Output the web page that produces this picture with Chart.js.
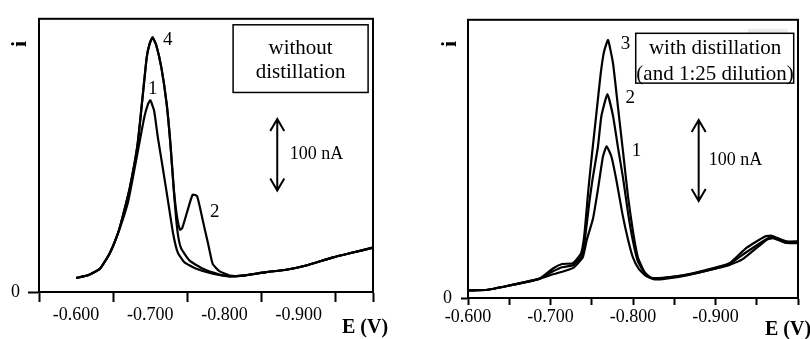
<!DOCTYPE html>
<html>
<head>
<meta charset="utf-8">
<script src="https://cdn.jsdelivr.net/npm/chart.js@4.4.1/dist/chart.umd.min.js"></script>
<style>
  html, body { margin: 0; padding: 0; background: #fff; }
  .wrap { position: relative; width: 810px; height: 339px; }
  .panel { position: absolute; top: 0; width: 405px; height: 339px; }
  #leftPanel { left: 0; }
  #rightPanel { left: 405px; }
</style>
</head>
<body>
<div class="wrap">
  <div class="panel" id="leftPanel"><canvas id="leftChart"></canvas></div>
  <div class="panel" id="rightPanel"><canvas id="rightChart"></canvas></div>
</div>
<script>
// ---- left panel: without distillation (E in V, i in nA) ----
const leftE1 = [-0.600, -0.616, -0.632, -0.645, -0.656, -0.670, -0.681, -0.692, -0.697, -0.700, -0.705, -0.710, -0.717, -0.724, -0.731, -0.737, -0.746, -0.762, -0.784, -0.807, -0.825, -0.856, -0.883, -0.910, -0.946, -0.973, -1.000];
const leftI1 = [19.6, 23.3, 32.5, 53.4, 80.8, 126, 185, 245, 263, 268, 254, 217, 172, 126, 80, 55, 41.5, 32.5, 25.6, 21.9, 22.9, 27.8, 31.1, 37, 48.4, 55.2, 62];

const leftE2 = [-0.600, -0.616, -0.632, -0.645, -0.656, -0.661, -0.672, -0.683, -0.695, -0.699, -0.703, -0.708, -0.715, -0.722, -0.727, -0.732, -0.736, -0.740, -0.743, -0.751, -0.757, -0.763, -0.771, -0.778, -0.784, -0.793, -0.807, -0.825, -0.856, -0.883, -0.910, -0.946, -0.973, -1.000];
const leftI2 = [19.6, 23.3, 32.5, 53.4, 80.8, 98.6, 144, 208, 327, 347, 356, 345, 313, 263, 208, 140, 105, 87, 89.5, 117, 136, 134, 98.6, 66.7, 39.3, 29.2, 22.9, 22.9, 27.8, 31.1, 37, 48.4, 55.2, 62];

const leftE4 = [-0.600, -0.616, -0.632, -0.645, -0.656, -0.661, -0.672, -0.683, -0.695, -0.699, -0.703, -0.708, -0.715, -0.722, -0.727, -0.731, -0.735, -0.738, -0.742, -0.753, -0.771, -0.794, -0.807, -0.825, -0.856, -0.883, -0.910, -0.946, -0.973, -1.000];
const leftI4 = [19.6, 23.3, 32.5, 53.4, 80.8, 98.6, 144, 208, 327, 347, 356, 345, 313, 263, 208, 150, 100, 75, 60, 43.8, 32.5, 24.2, 21.9, 22.9, 27.8, 31.1, 37, 48.4, 55.2, 62];

// ---- right panel: with distillation (and 1:25 dilution) ----
const rightE1 = [-0.600, -0.624, -0.650, -0.686, -0.704, -0.718, -0.728, -0.739, -0.744, -0.7515, -0.7576, -0.7636, -0.768, -0.7738, -0.780, -0.787, -0.794, -0.800, -0.807, -0.816, -0.826, -0.840, -0.865, -0.901, -0.917, -0.933, -0.962, -0.970, -0.986, -1.000];
const rightI1 = [9.4, 10.2, 15.4, 23.6, 29.6, 33.7, 37.7, 50, 72, 98, 135, 175, 187.6, 175, 145, 105, 72, 50, 36, 27, 23, 24, 28, 36.5, 41, 48, 72, 74, 68, 68];

const rightE2 = [-0.600, -0.624, -0.650, -0.686, -0.703, -0.714, -0.727, -0.738, -0.742, -0.747, -0.751, -0.7575, -0.7617, -0.769, -0.7758, -0.7818, -0.788, -0.794, -0.800, -0.806, -0.815, -0.824, -0.836, -0.865, -0.901, -0.917, -0.935, -0.962, -0.968, -0.986, -1.000];
const rightI2 = [9.4, 10.2, 15.4, 23.6, 33, 38, 40.5, 52, 75, 118, 147, 187, 225, 252, 225, 186, 148, 105, 70, 45, 30, 24, 24.5, 28.5, 37, 42, 55, 73, 75, 69, 69];

const rightE3 = [-0.600, -0.624, -0.650, -0.686, -0.703, -0.714, -0.727, -0.737, -0.741, -0.746, -0.750, -0.7556, -0.7608, -0.765, -0.7697, -0.7758, -0.7818, -0.788, -0.794, -0.800, -0.806, -0.814, -0.822, -0.836, -0.865, -0.901, -0.917, -0.9375, -0.960, -0.968, -0.986, -1.000];
const rightI3 = [9.4, 10.2, 15.4, 23.6, 36.5, 42, 43, 55, 78, 135, 175, 228, 277, 305, 319, 290, 236, 180, 125, 82, 50, 32, 25, 25, 29, 38, 43, 62, 76, 77, 70, 70];

// ---- axis ticks ----
const leftTickMarks = [-0.55, -0.65, -0.75, -0.85, -0.95, -1.0];
const rightTickMarks = [-0.6, -0.65, -0.7, -0.75, -0.8, -0.85, -0.9, -0.95, -1.0];
const tickValues = [-0.6, -0.7, -0.8, -0.9];
const tickLabels = ["-0.600", "-0.700", "-0.800", "-0.900"];

const SERIF = "'Liberation Serif', 'DejaVu Serif', serif";

function same(a, b) {
  return Math.abs(a - b) < 1e-6;
}

function toPoints(eValues, iValues) {
  return eValues.map((e, k) => ({ x: e, y: iValues[k] }));
}

function labelFor(value) {
  const k = tickValues.findIndex((v) => same(v, value));
  return k >= 0 ? tickLabels[k] : "";
}

function drawArrow(ctx, x, yTop, yBottom) {
  const head = 7;
  ctx.beginPath();
  ctx.moveTo(x, yTop);
  ctx.lineTo(x, yBottom);
  ctx.moveTo(x - head, yTop + 12);
  ctx.lineTo(x, yTop);
  ctx.lineTo(x + head, yTop + 12);
  ctx.moveTo(x - head, yBottom - 12);
  ctx.lineTo(x, yBottom);
  ctx.lineTo(x + head, yBottom - 12);
  ctx.stroke();
}

const extrasPlugin = {
  id: "extras",
  afterDraw(chart, args, opts) {
    const { ctx, chartArea, scales } = chart;
    const px = (e) => scales.x.getPixelForValue(e);
    const py = (i) => scales.y.getPixelForValue(i);

    ctx.save();
    ctx.strokeStyle = "#000";
    ctx.fillStyle = "#000";

    // frame
    ctx.lineWidth = 2;
    ctx.strokeRect(chartArea.left, chartArea.top, chartArea.right - chartArea.left, chartArea.bottom - chartArea.top);

    // grey smudge (right panel only)
    if (opts.smudge) {
      const s = opts.smudge;
      ctx.fillStyle = "#ececec";
      ctx.fillRect(px(s.e1), py(s.i1), px(s.e2) - px(s.e1), py(s.i2) - py(s.i1));
      ctx.fillStyle = "#000";
    }

    // caption box
    const b = opts.box;
    ctx.lineWidth = 1.5;
    ctx.fillStyle = "#fff";
    ctx.fillRect(px(b.e1), py(b.i1), px(b.e2) - px(b.e1), py(b.i2) - py(b.i1));
    ctx.strokeRect(px(b.e1), py(b.i1), px(b.e2) - px(b.e1), py(b.i2) - py(b.i1));
    ctx.fillStyle = "#000";

    ctx.textAlign = "center";
    ctx.textBaseline = "middle";
    ctx.font = `21px ${SERIF}`;
    b.lines.forEach((line) => {
      ctx.fillText(line.text, px(b.center), py(line.i));
    });

    // curve numbers
    ctx.font = `19px ${SERIF}`;
    opts.notes.forEach((n) => {
      ctx.fillText(n.text, px(n.e), py(n.i));
    });

    // 100 nA scale bar
    const a = opts.bar;
    ctx.lineWidth = 2;
    drawArrow(ctx, px(a.e), py(a.i + 100), py(a.i));
    ctx.font = `18px ${SERIF}`;
    ctx.fillText("100 nA", px(a.textE), py(a.textI));

    // axis titles
    ctx.font = `bold 22px ${SERIF}`;
    ctx.save();
    ctx.translate(opts.iTitle.x, opts.iTitle.y);
    ctx.rotate(-Math.PI / 2);
    ctx.fillText("i", 0, 0);
    ctx.restore();

    ctx.font = `bold 20px ${SERIF}`;
    ctx.fillText("E (V)", opts.eTitle.x, opts.eTitle.y);

    ctx.restore();
  }
};

function buildChart(canvasId, cfg) {
  const ctx = document.getElementById(canvasId).getContext("2d");
  const allTicks = cfg.tickMarks.concat(tickValues.filter((v) => !cfg.tickMarks.some((m) => same(m, v))));

  return new Chart(ctx, {
    type: "scatter",
    data: {
      datasets: cfg.curves.map((c) => ({
        data: toPoints(c.e, c.i),
        showLine: true,
        borderColor: "#000",
        borderWidth: 2.2,
        pointRadius: 0,
        tension: 0.15,
        fill: false
      }))
    },
    options: {
      responsive: true,
      maintainAspectRatio: false,
      animation: false,
      layout: { padding: { top: cfg.padTop, right: cfg.padRight, left: 0, bottom: 0 } },
      plugins: {
        legend: { display: false },
        tooltip: { enabled: false },
        extras: cfg.extras
      },
      scales: {
        x: {
          type: "linear",
          reverse: true,
          min: -1.0,
          max: cfg.xMax,
          afterBuildTicks(scale) {
            scale.ticks = allTicks.slice().sort((p, q) => q - p).map((v) => ({ value: v }));
          },
          afterFit(scale) {
            scale.height = cfg.xAxisHeight;
          },
          ticks: {
            autoSkip: false,
            maxRotation: 0,
            padding: cfg.xTickPad,
            color: "#000",
            font: { family: SERIF, size: 18 },
            callback: (value) => labelFor(value)
          },
          grid: {
            drawOnChartArea: false,
            drawTicks: true,
            tickLength: cfg.xTickLen,
            tickWidth: 2,
            tickColor: (c) => (c.tick && cfg.tickMarks.some((m) => same(m, c.tick.value)) ? "#000" : "rgba(0,0,0,0)")
          },
          border: { display: true, color: "#000", width: 2 }
        },
        y: {
          min: 0,
          max: cfg.yMax,
          afterBuildTicks(scale) {
            scale.ticks = [{ value: 0 }];
          },
          afterFit(scale) {
            scale.width = cfg.yAxisWidth;
          },
          ticks: {
            padding: cfg.yTickPad,
            color: "#000",
            font: { family: SERIF, size: 18 }
          },
          grid: {
            drawOnChartArea: false,
            drawTicks: true,
            tickLength: cfg.yTickLen,
            tickWidth: 2,
            tickColor: "#000"
          },
          border: { display: true, color: "#000", width: 2 }
        }
      }
    },
    plugins: [extrasPlugin]
  });
}

buildChart("leftChart", {
  curves: [
    { e: leftE1, i: leftI1 },
    { e: leftE2, i: leftI2 },
    { e: leftE4, i: leftI4 }
  ],
  tickMarks: leftTickMarks,
  xMax: -0.55,
  yMax: 382,
  padTop: 13,
  padRight: 32,
  xAxisHeight: 47,
  yAxisWidth: 39,
  xTickLen: 10,
  xTickPad: 2,
  yTickLen: 11,
  yTickPad: 8,
  extras: {
    box: {
      e1: -0.8115, e2: -0.9934, i1: 373.6, i2: 279, center: -0.9024,
      lines: [{ text: "without", i: 340.7 }, { text: "distillation", i: 306.4 }]
    },
    notes: [
      { text: "4", e: -0.7234, i: 352 },
      { text: "1", e: -0.7032, i: 283.6 },
      { text: "2", e: -0.7868, i: 112.3 }
    ],
    bar: { e: -0.871, i: 142, textE: -0.9239, textI: 192.2 },
    iTitle: { x: 20, y: 44 },
    eTitle: { x: 365, y: 328 }
  }
});

buildChart("rightChart", {
  curves: [
    { e: rightE1, i: rightI1 },
    { e: rightE2, i: rightI2 },
    { e: rightE3, i: rightI3 }
  ],
  tickMarks: rightTickMarks,
  xMax: -0.6,
  yMax: 344,
  padTop: 15,
  padRight: 12,
  xAxisHeight: 41,
  yAxisWidth: 63,
  xTickLen: 7,
  xTickPad: 1,
  yTickLen: 7,
  yTickPad: 9,
  extras: {
    smudge: { e1: -0.939, e2: -0.9874, i1: 333, i2: 327.3 },
    box: {
      e1: -0.8033, e2: -0.9948, i1: 327.3, i2: 265.7, center: -0.8995,
      lines: [{ text: "with distillation", i: 309.1 }, { text: "(and 1:25 dilution)", i: 276.7 }]
    },
    notes: [
      { text: "3", e: -0.7908, i: 314 },
      { text: "2", e: -0.7968, i: 247.1 },
      { text: "1", e: -0.8041, i: 182.3 }
    ],
    bar: { e: -0.8796, i: 120, textE: -0.9242, textI: 170.1 },
    iTitle: { x: 45, y: 44 },
    eTitle: { x: 383, y: 330 }
  }
});
</script>
</body>
</html>
